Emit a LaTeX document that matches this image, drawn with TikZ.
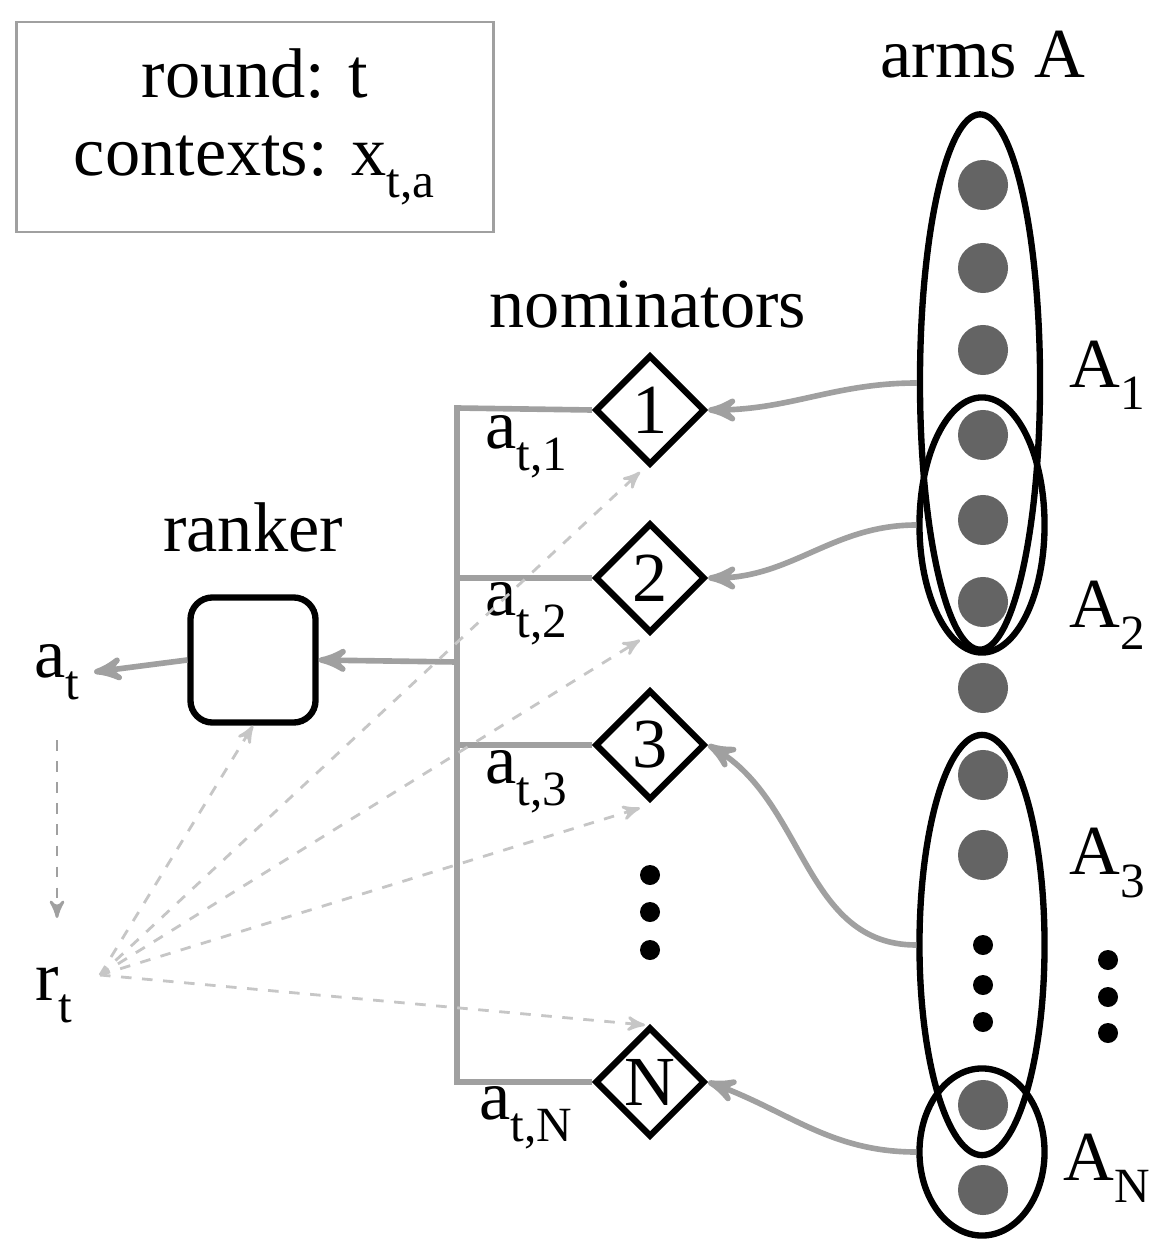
\documentclass[tikz,border=0pt]{standalone}
\usepackage{fontspec}
\setmainfont{Liberation Serif}
\usetikzlibrary{arrows,shapes,positioning}
\definecolor{lgray}{RGB}{160,160,160}
\definecolor{dgray}{RGB}{100,100,100}
\newcommand{\sub}[1]{\textsubscript{\raisebox{-0.5ex}{#1}}}
\begin{document}
\begin{tikzpicture}[x=0.01cm,y=-0.01cm,>=stealth',semithick,
  every node/.style={font=\fontsize{20}{24}\selectfont},
  nom/.style={draw,diamond,line width=1.8pt,minimum size=1.1cm,inner sep=0pt},
  arm/.style={circle,fill=dgray,minimum size=0.5cm,inner sep=0pt},
  grp/.style={draw,ellipse,line width=1.8pt},
  link/.style={->,lgray,line width=1.6pt},
  fb/.style={->,dashed,lgray!60,thick}]
\useasboundingbox (0,0) rectangle (1158,1246);
\node[draw,lgray,thick,minimum width=4.76cm,minimum height=2.1cm] (box) at (255,127) {};
\node[align=center,text=black] at (255,127) {round: t\\[-2pt]contexts: x\sub{t,a}};
\node (armsA) at (983,55) {arms A};
% arms
\foreach \y [count=\i] in {185,268,350,435,520,602,688,775,855,1105,1190}
  \node[arm] (arm\i) at (983,\y) {};
\foreach \y in {945,985,1022} \fill (983,\y) circle (0.1cm);
\foreach \y in {960,997,1033} \fill (1108,\y) circle (0.1cm);
\node[grp,minimum width=1.2cm,minimum height=5.35cm] (G1) at (980,382) {};
\node[grp,minimum width=1.25cm,minimum height=2.55cm] (G2) at (982,525) {};
\node[grp,minimum width=1.25cm,minimum height=4.2cm] (G3) at (982,945) {};
\node[grp,minimum width=1.25cm,minimum height=1.67cm] (GN) at (982,1152) {};
\node (A1) at (1108,375) {A\sub{1}};
\node (A2) at (1108,615) {A\sub{2}};
\node (A3) at (1108,863) {A\sub{3}};
\node (AN) at (1108,1168) {A\sub{N}};
% nominators
\node (nomlab) at (648,305) {nominators};
\node[nom] (n1) at (650,410) {1};
\node[nom] (n2) at (650,578) {2};
\node[nom] (n3) at (650,745) {3};
\node[nom] (nN) at (650,1082) {N};
\foreach \y in {875,912,950} \fill (650,\y) circle (0.1cm);
\coordinate (b1) at (457,408);
\coordinate (bN) at (457,1082);
\coordinate (bm) at (457,662);
\draw[lgray,line width=1.6pt] (n1.west) -- (b1) -- (bN) -- (nN.west);
\draw[lgray,line width=1.6pt] (n2.west) -- (457,578) (n3.west) -- (457,745);
\node (a1) at (527,447) {a\sub{t,1}};
\node (a2) at (527,614) {a\sub{t,2}};
\node (a3) at (527,782) {a\sub{t,3}};
\node (aN) at (527,1118) {a\sub{t,N}};
% ranker
\node (ranklab) at (253,527) {ranker};
\node[draw,rounded corners=0.22cm,line width=1.8pt,minimum size=1.25cm] (rank) at (253,660) {};
\node (at) at (58,672) {a\sub{t}};
\node (rt) at (55,995) {r\sub{t}};
\coordinate (rs) at (100,975);
\draw[link] (bm) -- (rank.east);
\draw[link] (rank.west) -- (at.east);
\draw[->,dashed,lgray,thick] (57,740) -- (57,918);
\draw[fb] (rs) -- (rank.south);
\draw[fb] (rs) -- (640,472);
\draw[fb] (rs) -- (640,640);
\draw[fb] (rs) -- (640,808);
\draw[fb] (rs) -- (645,1025);
% arms to nominators
\draw[link] (G1.west |- 0,383) to[out=180,in=0] (n1.east);
\draw[link] (G2.west) to[out=180,in=0] (n2.east);
\draw[link] (G3.west) to[out=180,in=-30] (n3.east);
\draw[link] (GN.west) to[out=180,in=-20] (nN.east);
\end{tikzpicture}
\end{document}
